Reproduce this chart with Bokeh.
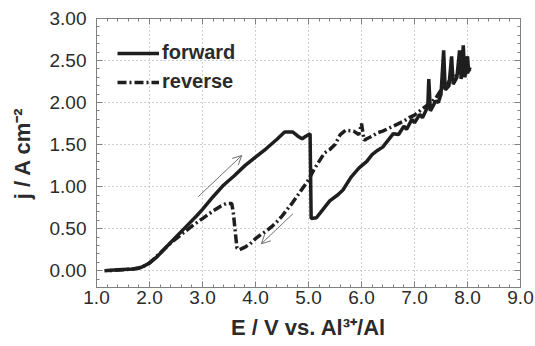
import numpy as np
from bokeh.plotting import figure
from bokeh.models import (ColumnDataSource, FixedTicker, NumeralTickFormatter, LinearAxis,
                          Legend, LegendItem, Arrow, OpenHead, Range1d)
from bokeh.embed import file_html
from bokeh.resources import INLINE

# ---- data ----
fwd_E = [1.15, 1.4, 1.7, 1.85, 2.0, 2.15, 2.3, 2.5, 2.7, 2.9, 3.0, 3.2, 3.4, 3.6, 3.8, 4.0,
         4.2, 4.4, 4.55, 4.7, 4.8, 4.88, 4.95, 5.03, 5.05, 5.15, 5.3, 5.4, 5.55, 5.65, 5.8,
         5.95, 6.1, 6.2, 6.3, 6.4, 6.5, 6.6, 6.7, 6.8, 6.85, 6.95, 7.0, 7.1, 7.15, 7.25,
         7.27, 7.3, 7.4, 7.45, 7.5, 7.55, 7.58, 7.65, 7.7, 7.73, 7.8, 7.85, 7.88, 7.92,
         7.95, 8.0, 8.02, 8.05]
fwd_j = [0.0, 0.01, 0.02, 0.04, 0.09, 0.17, 0.27, 0.40, 0.53, 0.66, 0.73, 0.88, 1.02, 1.13,
         1.25, 1.35, 1.45, 1.56, 1.65, 1.65, 1.60, 1.57, 1.60, 1.63, 0.62, 0.63, 0.75, 0.83,
         0.90, 0.96, 1.11, 1.22, 1.30, 1.38, 1.43, 1.47, 1.55, 1.63, 1.62, 1.72, 1.68, 1.80,
         1.76, 1.86, 1.82, 1.95, 2.28, 1.90, 2.02, 2.00, 2.10, 2.62, 2.15, 2.20, 2.55, 2.22,
         2.30, 2.62, 2.28, 2.68, 2.30, 2.55, 2.38, 2.40]

rev_E = [8.05, 8.0, 7.9, 7.8, 7.7, 7.6, 7.5, 7.4, 7.3, 7.2, 7.1, 7.0, 6.9, 6.8, 6.7, 6.6,
         6.5, 6.4, 6.3, 6.2, 6.1, 6.05, 6.0, 5.95, 5.85, 5.7, 5.6, 5.5, 5.4, 5.3, 5.2, 5.1,
         5.0, 4.9, 4.8, 4.7, 4.6, 4.5, 4.4, 4.3, 4.2, 4.1, 4.0, 3.9, 3.8, 3.7, 3.65, 3.62,
         3.58, 3.55, 3.45, 3.35, 3.2, 3.0, 2.8, 2.6, 2.4, 2.2, 2.05, 1.95, 1.8, 1.5, 1.2]
rev_j = [2.42, 2.35, 2.45, 2.32, 2.30, 2.20, 2.15, 2.05, 2.00, 1.95, 1.90, 1.85, 1.82, 1.78,
         1.75, 1.72, 1.69, 1.66, 1.64, 1.60, 1.57, 1.55, 1.75, 1.62, 1.66, 1.67, 1.62, 1.50,
         1.44, 1.40, 1.30, 1.20, 1.08, 0.99, 0.90, 0.81, 0.73, 0.65, 0.58, 0.52, 0.47, 0.43,
         0.38, 0.32, 0.28, 0.25, 0.27, 0.45, 0.70, 0.80, 0.80, 0.77, 0.71, 0.62, 0.53, 0.43,
         0.33, 0.21, 0.12, 0.07, 0.03, 0.01, 0.0]

# arrows (start -> end)
arrow_fwd = [(2.92, 0.88), (3.74, 1.37)]
arrow_rev = [(4.71, 0.68), (4.11, 0.32)]

x_ticks = [1.0, 2.0, 3.0, 4.0, 5.0, 6.0, 7.0, 8.0, 9.0]
y_ticks = [0.0, 0.5, 1.0, 1.5, 2.0, 2.5, 3.0]

x_title = "E / V vs. Al\u00b3\u207a/Al"
y_title = "j / A cm\u207b\u00b2"

TXT = "#2b2b2b"
AX = "#808080"
FONT = "Liberation Sans"

p = figure(width=535, height=346, output_backend="svg", toolbar_location=None,
           x_range=Range1d(1.0, 9.0), y_range=Range1d(-0.2, 3.0),
           min_border_left=96, min_border_right=15, min_border_top=18, min_border_bottom=59)
p.background_fill_color = "white"
p.border_fill_color = "white"
p.outline_line_color = AX
p.outline_line_width = 1

x_minor = [float(v) for v in np.round(np.arange(1.0, 9.0001, 0.2), 2)]
y_minor = [float(v) for v in np.round(np.arange(-0.2, 3.0001, 0.1), 2)]
xt = FixedTicker(ticks=x_ticks, minor_ticks=x_minor)
yt = FixedTicker(ticks=y_ticks, minor_ticks=y_minor)

def style_axis(ax, show_labels):
    ax.axis_line_color = AX
    ax.major_tick_line_color = AX
    ax.minor_tick_line_color = AX
    ax.major_tick_in = 6
    ax.major_tick_out = 0
    ax.minor_tick_in = 3
    ax.minor_tick_out = 0
    if show_labels:
        ax.major_label_text_font = FONT
        ax.major_label_text_font_size = "19px"
        ax.major_label_text_color = TXT
        ax.axis_label_text_font = FONT
        ax.axis_label_text_font_size = "22px"
        ax.axis_label_text_font_style = "bold"
        ax.axis_label_text_color = TXT
    else:
        ax.axis_label = None
        ax.major_label_text_font_size = "0px"
        ax.major_label_text_alpha = 0

p.xaxis.ticker = xt
p.yaxis.ticker = yt
p.xaxis.formatter = NumeralTickFormatter(format="0.0")
p.yaxis.formatter = NumeralTickFormatter(format="0.00")
p.xaxis.axis_label = x_title
p.yaxis.axis_label = y_title
style_axis(p.xaxis[0], True)
style_axis(p.yaxis[0], True)
p.xaxis.major_label_standoff = 3
p.yaxis.major_label_standoff = 10
p.xaxis.axis_label_standoff = 8
p.yaxis.axis_label_standoff = 12

top = LinearAxis(ticker=xt)
right = LinearAxis(ticker=yt)
style_axis(top, False)
style_axis(right, False)
top.major_label_standoff = 0
right.major_label_standoff = 0
p.add_layout(top, "above")
p.add_layout(right, "right")

for g in (p.xgrid, p.ygrid):
    g.grid_line_color = "#a0a0a0"
    g.grid_line_dash = "1 3"
    g.grid_line_width = 1
p.xgrid.ticker = xt
p.ygrid.ticker = yt

src_f = ColumnDataSource(dict(E=fwd_E, j=fwd_j))
src_r = ColumnDataSource(dict(E=rev_E, j=rev_j))
rr = p.line("E", "j", source=src_r, line_color="#1e1e1e", line_width=3.5, line_dash="9 3 2 3")
rf = p.line("E", "j", source=src_f, line_color="#1e1e1e", line_width=3.5)

for (s, e) in (arrow_fwd, arrow_rev):
    p.add_layout(Arrow(x_start=s[0], y_start=s[1], x_end=e[0], y_end=e[1],
                       line_color="#707070", line_width=1,
                       end=OpenHead(size=9, line_color="#707070", line_width=1)))

legend = Legend(items=[LegendItem(label="forward", renderers=[rf]),
                       LegendItem(label="reverse", renderers=[rr])],
                location=(21, 194), padding=0, margin=0, spacing=6,
                glyph_width=42, glyph_height=20, label_height=20, label_standoff=3,
                label_text_font=FONT, label_text_font_size="20px",
                label_text_font_style="bold", label_text_color=TXT,
                border_line_alpha=0, background_fill_alpha=0)
p.add_layout(legend)

open("out.html", "w").write(file_html(p, INLINE))
